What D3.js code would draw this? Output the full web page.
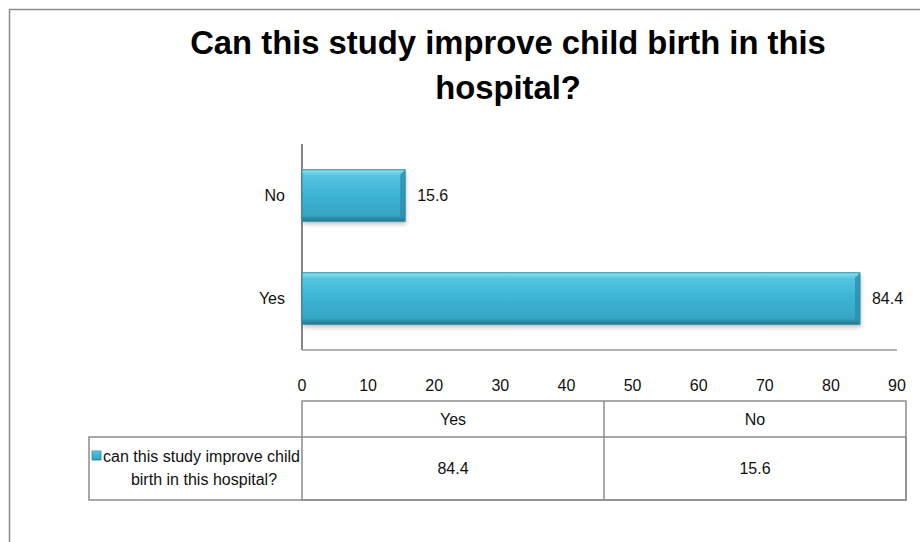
<!DOCTYPE html>
<html>
<head>
<meta charset="utf-8">
<script src="https://cdn.jsdelivr.net/npm/d3@7"></script>
<style>
  body { margin: 0; background: #fff; }
  text { font-family: "Liberation Sans", Arial, sans-serif; fill: #111; }
</style>
</head>
<body>
<div id="chart"></div>
<script>
// chart values
var categories = ['Yes', 'No'];
var values = [84.4, 15.6];
var xTicks = [0, 10, 20, 30, 40, 50, 60, 70, 80, 90];
var legendLines = ['can this study improve child', 'birth in this hospital?'];
var titleLines = ['Can this study improve child birth in this', 'hospital?'];

var W = 920, H = 542;
var plot = {left: 302, right: 897, top: 144, bottom: 350};

var svg = d3.select('#chart').append('svg')
  .attr('width', W).attr('height', H);

var defs = svg.append('defs');
var grad = defs.append('linearGradient').attr('id', 'barGrad')
  .attr('x1', 0).attr('y1', 0).attr('x2', 0).attr('y2', 1);
grad.append('stop').attr('offset', '0%').attr('stop-color', '#8fe0f0');
grad.append('stop').attr('offset', '12%').attr('stop-color', '#52c4e0');
grad.append('stop').attr('offset', '50%').attr('stop-color', '#3cb3d4');
grad.append('stop').attr('offset', '88%').attr('stop-color', '#35a6c6');
grad.append('stop').attr('offset', '100%').attr('stop-color', '#24748c');

var blur = defs.append('filter').attr('id', 'shadow')
  .attr('x', '-5%').attr('y', '-20%').attr('width', '110%').attr('height', '150%');
blur.append('feGaussianBlur').attr('stdDeviation', 2);

// outer frame (right and bottom fall off the picture)
svg.append('path')
  .attr('d', 'M9.5,' + H + ' V9.5 H' + W)
  .attr('fill', 'none').attr('stroke', '#8c8c8c').attr('stroke-width', 1.5);

// title
var title = svg.append('g');
titleLines.forEach(function(t, i) {
  title.append('text')
    .attr('x', 508).attr('y', 54 + i * 45)
    .attr('text-anchor', 'middle')
    .style('font-weight', 'bold')
    .style('font-size', '30px')
    .style('fill', '#000')
    .text(t);
});
// fit the first line to the width in the original
var t0 = title.select('text').node();
var scaleF = 636 / t0.getComputedTextLength();
title.selectAll('text').style('font-size', (30 * scaleF) + 'px');

var x = d3.scaleLinear().domain([0, 90]).range([plot.left, plot.right]);
var y = d3.scaleBand().domain(categories.slice().reverse())
  .range([plot.top, plot.bottom]).paddingInner(0.5).paddingOuter(0.25);

// axes lines
svg.append('line')
  .attr('x1', plot.left).attr('x2', plot.left)
  .attr('y1', plot.top).attr('y2', plot.bottom)
  .attr('stroke', '#868686').attr('stroke-width', 2);
svg.append('line')
  .attr('x1', plot.left).attr('x2', plot.right)
  .attr('y1', plot.bottom).attr('y2', plot.bottom)
  .attr('stroke', '#9a9a9a').attr('stroke-width', 1.5);

// bars
var bars = svg.append('g').selectAll('g')
  .data(categories.map(function(c, i) { return {cat: c, val: values[i]}; }))
  .join('g');

bars.append('rect')
  .attr('x', x(0) + 1)
  .attr('y', d => y(d.cat) + 3)
  .attr('width', d => x(d.val) - x(0))
  .attr('height', y.bandwidth())
  .attr('fill', '#000').attr('opacity', 0.25)
  .attr('filter', 'url(#shadow)');

bars.append('rect')
  .attr('x', x(0))
  .attr('y', d => y(d.cat))
  .attr('width', d => x(d.val) - x(0))
  .attr('height', y.bandwidth())
  .attr('fill', 'url(#barGrad)')
  .attr('stroke', '#2a8aa4').attr('stroke-width', 1);

// right-hand bevel
bars.append('path')
  .attr('d', function(d) {
    var x1 = x(d.val), y0 = y(d.cat), h = y.bandwidth();
    return 'M' + x1 + ',' + y0 + ' l-5,5 v' + (h - 10) + ' l5,5 Z';
  })
  .attr('fill', '#2b8fab').attr('opacity', 0.8);

// data labels
bars.append('text')
  .attr('x', d => x(d.val) + 12)
  .attr('y', d => y(d.cat) + y.bandwidth() / 2)
  .attr('dy', '0.35em')
  .style('font-size', '16px')
  .text(d => d.val);

// category labels
svg.append('g').selectAll('text')
  .data(categories)
  .join('text')
  .attr('x', 285)
  .attr('y', d => y(d) + y.bandwidth() / 2)
  .attr('dy', '0.35em')
  .attr('text-anchor', 'end')
  .style('font-size', '16px')
  .text(d => d);

// x tick labels
svg.append('g').selectAll('text')
  .data(xTicks)
  .join('text')
  .attr('x', d => x(d))
  .attr('y', 385)
  .attr('dy', '0.35em')
  .attr('text-anchor', 'middle')
  .style('font-size', '16px')
  .text(d => d);

// data table
var tbl = {top: 401, mid: 437, bottom: 500, left: 89};
var col = d3.scaleBand().domain(categories).range([plot.left, 906]);
var tg = svg.append('g').attr('fill', 'none').attr('stroke', '#8c8c8c').attr('stroke-width', 1.5);

tg.append('rect')
  .attr('x', plot.left).attr('y', tbl.top)
  .attr('width', 906 - plot.left).attr('height', tbl.bottom - tbl.top);
tg.append('rect')
  .attr('x', tbl.left).attr('y', tbl.mid)
  .attr('width', 906 - tbl.left).attr('height', tbl.bottom - tbl.mid);
tg.append('line')
  .attr('x1', col('No')).attr('x2', col('No'))
  .attr('y1', tbl.top).attr('y2', tbl.bottom);

svg.append('g').selectAll('text')
  .data(categories)
  .join('text')
  .attr('x', d => col(d) + col.bandwidth() / 2)
  .attr('y', (tbl.top + tbl.mid) / 2)
  .attr('dy', '0.35em')
  .attr('text-anchor', 'middle')
  .style('font-size', '16px')
  .text(d => d);

svg.append('g').selectAll('text')
  .data(values)
  .join('text')
  .attr('x', (d, i) => col(categories[i]) + col.bandwidth() / 2)
  .attr('y', (tbl.mid + tbl.bottom) / 2)
  .attr('dy', '0.35em')
  .attr('text-anchor', 'middle')
  .style('font-size', '16px')
  .text(d => d);

// legend key + series name
svg.append('rect')
  .attr('x', 92).attr('y', 451).attr('width', 9).attr('height', 9)
  .attr('fill', 'url(#barGrad)').attr('stroke', '#2a8aa4').attr('stroke-width', 0.8);
var legTexts = legendLines.map(function(t, i) {
  return svg.append('text')
    .attr('y', 456 + i * 23)
    .attr('dy', '0.35em')
    .style('font-size', '16px')
    .text(t);
});
// squeeze both lines by the same ratio so the first one fits the cell
var ratio = 197 / legTexts[0].node().getComputedTextLength();
legTexts.forEach(function(s, i) {
  var w = s.node().getComputedTextLength() * ratio;
  s.attr('textLength', w).attr('lengthAdjust', 'spacingAndGlyphs')
    .attr('x', i == 0 ? 103 : 204 - w / 2);
});
</script>
</body>
</html>
